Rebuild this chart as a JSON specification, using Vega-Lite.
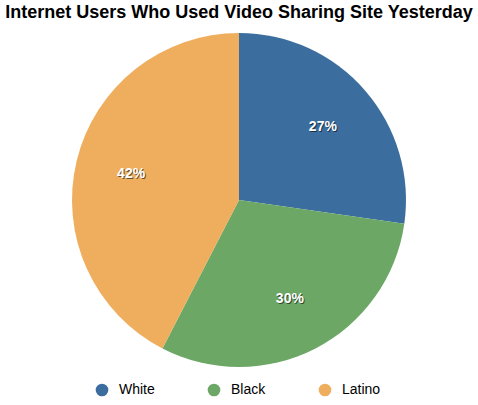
{
  "$schema": "https://vega.github.io/schema/vega-lite/v6.json",
  "autosize": {"type": "none"},
  "width": 334,
  "height": 334,
  "padding": {"top": 33, "left": 72, "right": 72, "bottom": 38},
  "title": {"text": "Internet Users Who Used Video Sharing Site Yesterday", "anchor": "middle", "fontSize": 18, "font": "Liberation Sans", "fontWeight": "bold", "color": "#000", "offset": 11},
  "data": {"values": [
    {"group": "White", "pct": 27, "label": "27%", "ord": 1},
    {"group": "Black", "pct": 30, "label": "30%", "ord": 2},
    {"group": "Latino", "pct": 42, "label": "42%", "ord": 3}
  ]},
  "encoding": {
    "theta": {"field": "pct", "type": "quantitative", "stack": true},
    "order": {"field": "ord", "type": "quantitative"},
    "color": {"field": "group", "type": "nominal",
      "scale": {"domain": ["White", "Black", "Latino"], "range": ["#3b6e9e", "#6ca766", "#efae5d"]},
      "legend": {"orient": "none", "legendX": 23, "legendY": 350, "direction": "horizontal", "title": null, "symbolType": "circle", "symbolSize": 160, "labelFontSize": 14, "labelFont": "Liberation Sans", "labelColor": "#000", "labelOffset": 10, "columnPadding": 52, "symbolOpacity": 1, "symbolStrokeWidth": 0}
    }
  },
  "layer": [
    {"mark": {"type": "arc", "outerRadius": 167}},
    {"mark": {"type": "text", "radius": 111, "dx": 1, "dy": 1, "fontSize": 14, "fontWeight": "bold", "font": "Liberation Sans", "color": "#000", "opacity": 0.55}, "encoding": {"text": {"field": "label"}, "color": {"value": "#000"}}},
    {"mark": {"type": "text", "radius": 111, "fontSize": 14, "fontWeight": "bold", "font": "Liberation Sans"}, "encoding": {"text": {"field": "label"}, "color": {"value": "#fff"}}}
  ],
  "config": {"view": {"stroke": null}}
}
